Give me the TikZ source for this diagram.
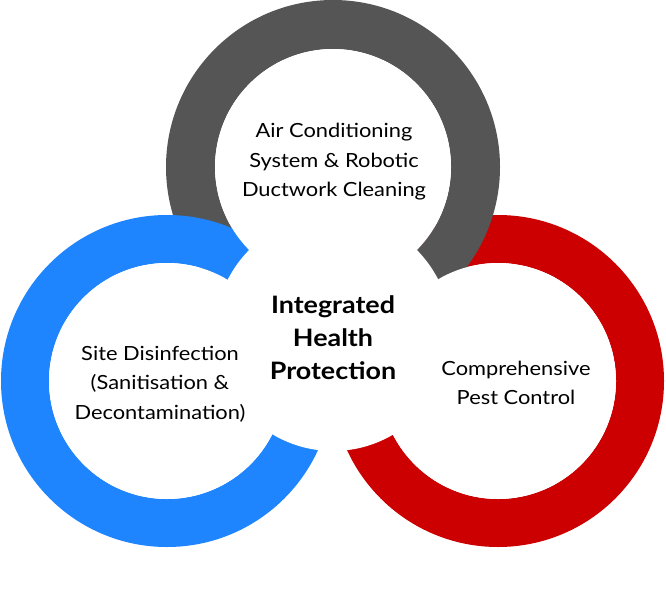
\documentclass[tikz,border=0pt]{standalone}
\usepackage{fontspec}
\setmainfont{Lato}[FakeStretch=1.12]
\usepackage{xcolor}
\usepackage{tikz}
\usetikzlibrary{positioning}

\definecolor{ringgray}{RGB}{85,85,85}
\definecolor{ringblue}{RGB}{31,133,255}
\definecolor{ringred}{RGB}{204,0,0}

\tikzset{
  ringband/.style={fill=#1, even odd rule},
  hole/.style={fill=white},
  ringtext/.style={align=center, inner sep=0pt, font=\fontsize{19.5}{29.5}\selectfont},
  hubtext/.style={align=center, inner sep=0pt, font=\fontsize{24}{33}\selectfont\bfseries},
}

\begin{document}
\begin{tikzpicture}[x=1pt, y=-1pt]
\useasboundingbox[fill=white] (0,0) rectangle (666,589);

% Centres
\coordinate (ac) at (333,167);
\coordinate (site) at (167,381);
\coordinate (pest) at (498,381);
\coordinate (hub) at (333,333);

% Rings
\fill[ringband=ringred] (pest) circle (166pt) (pest) circle (118pt);
\fill[ringband=ringgray] (ac) circle (167pt) (ac) circle (118pt);
\fill[ringband=ringblue] (site) circle (166pt) (site) circle (118pt);

% Holes
\fill[hole] (pest) circle (118pt);
\fill[hole] (ac) circle (118pt);
\fill[hole] (site) circle (118pt);
\fill[hole] (hub) circle (118pt);

% Labels
\node[ringtext] (actext) at (334,162) {Air Conditioning\\System \& Robotic\\Ductwork Cleaning};
\node[ringtext] (sitetext) at (160,384) {Site Disinfection\\(Sanitisation \&\\Decontamination)};
\node[ringtext] (pesttext) at (516,383) {Comprehensive\\Pest Control};
\node[hubtext] (hubtext) at (333,338) {Integrated\\Health\\Protection};
\end{tikzpicture}
\end{document}
